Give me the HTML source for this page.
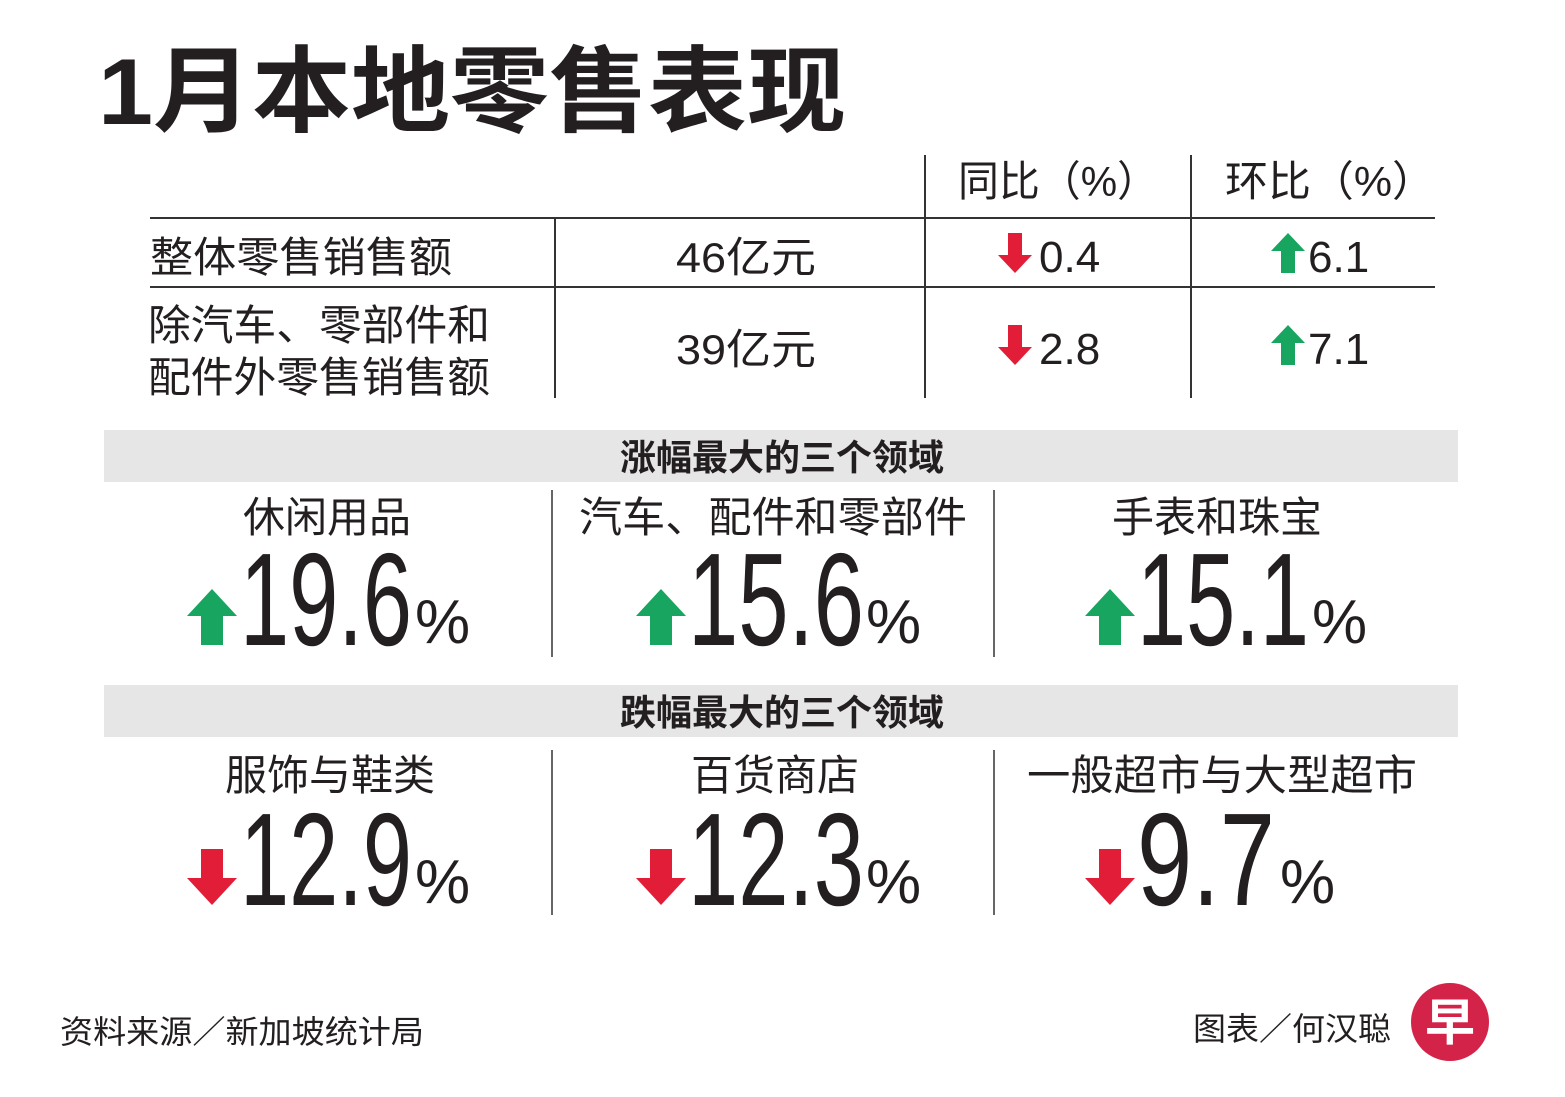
<!DOCTYPE html>
<html><head><meta charset="utf-8"><style>
html,body{margin:0;padding:0;background:#fff;}
svg{display:block;}
text{font-family:"Liberation Sans","Noto Sans CJK SC",sans-serif;fill:#231f20;}
</style></head><body>
<svg width="1565" height="1097" viewBox="0 0 1565 1097" xmlns="http://www.w3.org/2000/svg">
<defs>
<g id="up"><polygon points="0,18 17,0 34,18 24,18 24,40 10,40 10,18" fill="#17a560"/></g>
<g id="dn"><polygon points="10,0 24,0 24,22 34,22 17,40 0,22 10,22" fill="#e21d38"/></g>
<g id="bup"><polygon points="0,27 25,0 50,27 36,27 36,56 14,56 14,27" fill="#17a560"/></g>
<g id="bdn"><polygon points="14,0 36,0 36,29 50,29 25,56 0,29 14,29" fill="#e21d38"/></g>
</defs>
<text x="98" y="124" font-size="94" font-weight="bold" textLength="748" lengthAdjust="spacingAndGlyphs">1月本地零售表现</text>

<text x="958" y="196" font-size="42" textLength="200" lengthAdjust="spacingAndGlyphs">同比（%）</text>
<text x="1225" y="196" font-size="42" textLength="210" lengthAdjust="spacingAndGlyphs">环比（%）</text>
<g stroke="#333" stroke-width="2">
<line x1="925" y1="155" x2="925" y2="398"/>
<line x1="1191" y1="155" x2="1191" y2="398"/>
<line x1="555" y1="218" x2="555" y2="398"/>
<line x1="150" y1="218" x2="1435" y2="218"/>
<line x1="150" y1="287" x2="1435" y2="287"/>
</g>
<text x="150" y="272" font-size="42" textLength="302" lengthAdjust="spacingAndGlyphs">整体零售销售额</text>
<text x="676" y="272" font-size="42" textLength="140" lengthAdjust="spacingAndGlyphs">46亿元</text>
<use href="#dn" x="998" y="233"/><text x="1039" y="272" font-size="44">0.4</text>
<use href="#up" x="1271" y="233"/><text x="1308" y="272" font-size="44">6.1</text>

<text x="148" y="340" font-size="42" textLength="342" lengthAdjust="spacingAndGlyphs">除汽车、零部件和</text>
<text x="148" y="392" font-size="42" textLength="342" lengthAdjust="spacingAndGlyphs">配件外零售销售额</text>
<text x="676" y="364" font-size="42" textLength="140" lengthAdjust="spacingAndGlyphs">39亿元</text>
<use href="#dn" x="998" y="325"/><text x="1039" y="364" font-size="44">2.8</text>
<use href="#up" x="1271" y="325"/><text x="1308" y="364" font-size="44">7.1</text>

<rect x="104" y="430" width="1354" height="52" fill="#e6e6e6"/>
<text x="782" y="470" font-size="36" font-weight="bold" text-anchor="middle">涨幅最大的三个领域</text>
<rect x="104" y="685" width="1354" height="52" fill="#e6e6e6"/>
<text x="782" y="725" font-size="36" font-weight="bold" text-anchor="middle">跌幅最大的三个领域</text>

<g stroke="#666" stroke-width="2">
<line x1="552" y1="490" x2="552" y2="657"/>
<line x1="994" y1="490" x2="994" y2="657"/>
<line x1="552" y1="750" x2="552" y2="915"/>
<line x1="994" y1="750" x2="994" y2="915"/>
</g>

<text x="327" y="532" font-size="42" text-anchor="middle">休闲用品</text>
<text x="773" y="532" font-size="42" text-anchor="middle" textLength="388" lengthAdjust="spacingAndGlyphs">汽车、配件和零部件</text>
<text x="1217" y="532" font-size="42" text-anchor="middle">手表和珠宝</text>

<use href="#bup" x="187" y="589"/>
<text x="240" y="645" font-size="132" textLength="172" lengthAdjust="spacingAndGlyphs">19.6</text>
<text x="415" y="643" font-size="62">%</text>
<use href="#bup" x="636" y="589"/>
<text x="688" y="645" font-size="132" textLength="176" lengthAdjust="spacingAndGlyphs">15.6</text>
<text x="866" y="643" font-size="62">%</text>
<use href="#bup" x="1085" y="589"/>
<text x="1137" y="645" font-size="132" textLength="172" lengthAdjust="spacingAndGlyphs">15.1</text>
<text x="1312" y="643" font-size="62">%</text>

<text x="330" y="790" font-size="42" text-anchor="middle">服饰与鞋类</text>
<text x="775" y="790" font-size="42" text-anchor="middle">百货商店</text>
<text x="1222" y="790" font-size="42" text-anchor="middle" textLength="390" lengthAdjust="spacingAndGlyphs">一般超市与大型超市</text>

<use href="#bdn" x="187" y="849"/>
<text x="240" y="905" font-size="132" textLength="172" lengthAdjust="spacingAndGlyphs">12.9</text>
<text x="415" y="903" font-size="62">%</text>
<use href="#bdn" x="636" y="849"/>
<text x="688" y="905" font-size="132" textLength="176" lengthAdjust="spacingAndGlyphs">12.3</text>
<text x="866" y="903" font-size="62">%</text>
<use href="#bdn" x="1085" y="849"/>
<text x="1137" y="905" font-size="132" textLength="138" lengthAdjust="spacingAndGlyphs">9.7</text>
<text x="1280" y="903" font-size="62">%</text>

<text x="60" y="1043" font-size="32" textLength="364" lengthAdjust="spacingAndGlyphs">资料来源／新加坡统计局</text>
<text x="1193" y="1040" font-size="32" textLength="198" lengthAdjust="spacingAndGlyphs">图表／何汉聪</text>
<circle cx="1450" cy="1022" r="39" fill="#d42348"/>
<text x="1450" y="1040" font-size="50" font-weight="bold" text-anchor="middle" style="fill:#fff">早</text>
</svg>
</body></html>
